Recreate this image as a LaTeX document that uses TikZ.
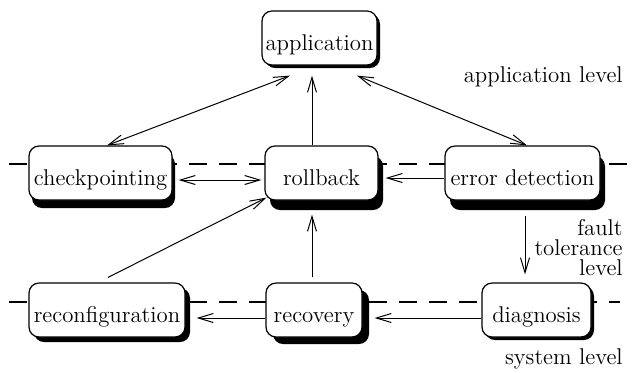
\documentclass[tikz,border=0pt]{standalone}
\usetikzlibrary{arrows.meta,shadows}
\newcommand{\diagfont}{\fontsize{11.4}{10}\selectfont}
\tikzset{
  stage/.style={draw, fill=white, line width=0.6pt, rounded corners=5pt,
    inner xsep=1.5pt, inner ysep=0pt, text height=19.5pt, text depth=7.5pt, font=\diagfont},
  lift/.style 2 args={drop shadow={shadow xshift=#1, shadow yshift=#2, opacity=1, fill=black}},
  link/.style={line width=0.5pt, -{Straight Barb[length=7.5pt,width=4.5pt]}},
  twoway/.style={line width=0.5pt, {Straight Barb[length=7.5pt,width=4.5pt]}-{Straight Barb[length=7.5pt,width=4.5pt]}},
  levelline/.style={line width=1pt, dash pattern=on 9pt off 6pt},
  levelname/.style={font=\diagfont, align=right, anchor=base east, inner sep=0pt}
}
\begin{document}
\begin{tikzpicture}[x=0.5pt,y=-0.5pt]
        \useasboundingbox (0,0) rectangle (633,372);
        \draw[levelline] (9,164) -- (630,164);
        \draw[levelline] (9,302) -- (620,302);
        \node[stage, lift={1.5pt}{-1.5pt}, minimum width=57.5pt] (application) at (319.5,38) {application};
        \node[stage, lift={1.5pt}{-4pt}, minimum width=71.5pt] (checkpointing) at (100.5,173) {checkpointing};
        \node[stage, lift={2.5pt}{-5pt}, minimum width=56.5pt] (rollback) at (321.5,173) {rollback};
        \node[stage, lift={2.5pt}{-5pt}, minimum width=77.5pt] (errordetection) at (522.5,173) {error detection};
        \node[stage, lift={2.5pt}{-2.5pt}, minimum width=78pt] (reconfiguration) at (107,310) {reconfiguration};
        \node[stage, lift={3.5pt}{-3.5pt}, minimum width=48pt] (recovery) at (314,310) {recovery};
        \node[stage, lift={1.5pt}{-1.5pt}, minimum width=54.5pt] (diagnosis) at (536.5,310) {diagnosis};
        \draw[twoway] ([xshift=-14.75pt,yshift=-5pt]application.south) -- ([xshift=3.25pt]checkpointing.north);
        \draw[twoway] ([xshift=18.75pt,yshift=-5pt]application.south) -- ([xshift=2.25pt]errordetection.north);
        \draw[link] ([xshift=-4.75pt]rollback.north) -- ([xshift=-3.75pt,yshift=-5pt]application.south);
        \draw[twoway, shorten <=3pt, shorten >=1.5pt] ([yshift=-3.5pt]checkpointing.east) -- ([yshift=-3.5pt]rollback.west);
        \draw[link, shorten >=3.5pt] ([yshift=-2.5pt]errordetection.west) -- ([yshift=-2.5pt]rollback.east);
        \draw[link] ([xshift=0.5pt,yshift=2.5pt]reconfiguration.north) -- ([xshift=1pt,yshift=1.5pt]rollback.south west);
        \draw[link] ([xshift=-1pt,yshift=2.5pt]recovery.north) -- ([xshift=-4.75pt,yshift=-7pt]rollback.south);
        \draw[link] ([xshift=1.25pt,yshift=-7.5pt]errordetection.south) -- ([xshift=-5.75pt,yshift=4pt]diagnosis.north);
        \draw[link, shorten >=6pt] ([yshift=-4pt]diagnosis.west) -- ([yshift=-4pt]recovery.east);
        \draw[link, shorten >=5.5pt] ([yshift=-4pt]recovery.west) -- ([yshift=-4pt]reconfiguration.east);
        \node[levelname] (applevel) at (623,82) {application level};
        \node[levelname, anchor=east] (ftlevel) at (623,248) {fault\\tolerance\\level};
        \node[levelname] (syslevel) at (623,364) {system level};
      \end{tikzpicture}
\end{document}
